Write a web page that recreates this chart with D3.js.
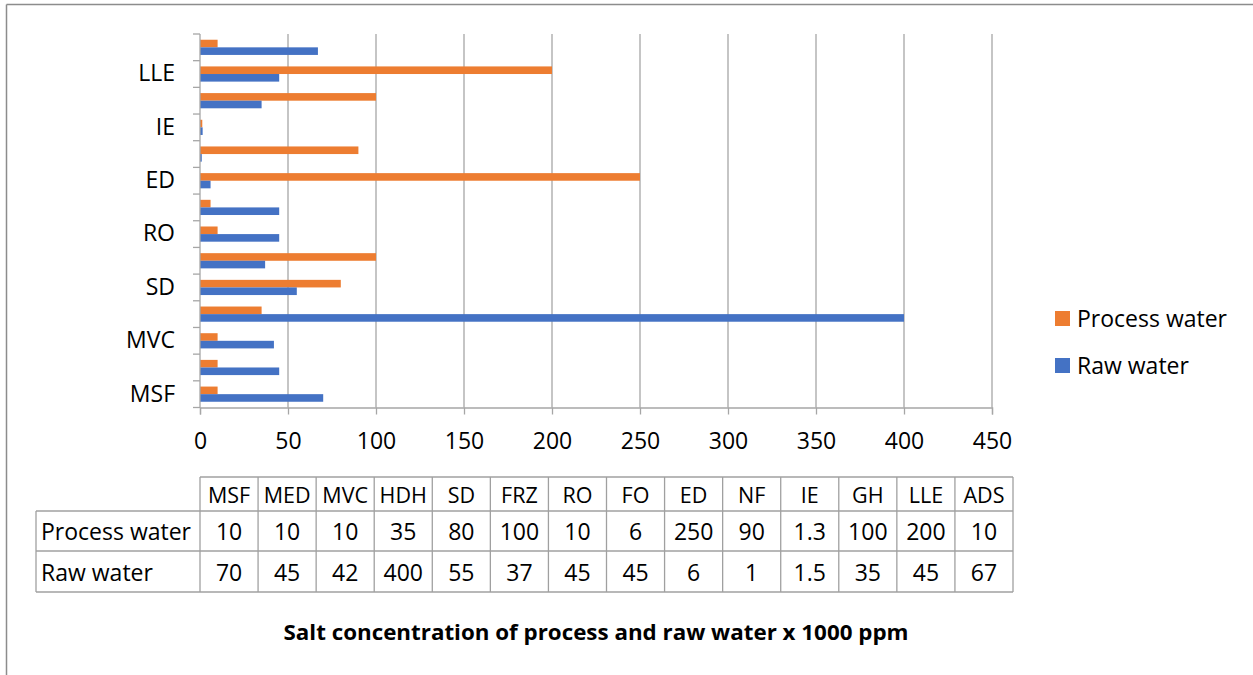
<!DOCTYPE html>
<html>
<head>
<meta charset="utf-8">
<script src="https://cdn.jsdelivr.net/npm/d3@7"></script>
<style>
  html, body { margin: 0; padding: 0; background: #fff; }
  svg { display: block; font-family: "Open Sans", "Liberation Sans", sans-serif; }
</style>
</head>
<body>
<svg id="chart" width="1253" height="675"></svg>
<script>
// Desalination technologies, bottom to top on the chart
const categories = ["MSF", "MED", "MVC", "HDH", "SD", "FRZ", "RO", "FO", "ED", "NF", "IE", "GH", "LLE", "ADS"];
// Salt concentration, x 1000 ppm
const processWater = [10, 10, 10, 35, 80, 100, 10, 6, 250, 90, 1.3, 100, 200, 10];
const rawWater = [70, 45, 42, 400, 55, 37, 45, 45, 6, 1, 1.5, 35, 45, 67];
const xTicks = [0, 50, 100, 150, 200, 250, 300, 350, 400, 450];
const seriesNames = ["Process water", "Raw water"];
const seriesColors = ["#ED7D31", "#4472C4"];
const titleText = "Salt concentration of process and raw water x 1000 ppm";

const svg = d3.select("#chart");
const W = 1253, H = 675;
const plot = { left: 200, right: 992, top: 34, bottom: 407.5 };
const gridColor = "#a6a6a6";
const fontSize = 23;

// Outer frame (top and left edges visible)
svg.append("line").attr("x1", 6.5).attr("y1", 4.5).attr("x2", W).attr("y2", 4.5)
  .attr("stroke", "#8c8c8c").attr("stroke-width", 1.5);
svg.append("line").attr("x1", 6.5).attr("y1", 4.5).attr("x2", 6.5).attr("y2", H)
  .attr("stroke", "#8c8c8c").attr("stroke-width", 1.5);

const x = d3.scaleLinear().domain([0, 450]).range([plot.left, plot.right]);
// Categories run bottom (MSF) to top (ADS)
const y = d3.scaleBand().domain(categories).range([plot.bottom, plot.top]).paddingInner(0).paddingOuter(0);
const barH = 7.6;

// Vertical gridlines
svg.append("g").selectAll("line").data(xTicks.filter(t => t > 0)).join("line")
  .attr("x1", d => x(d)).attr("x2", d => x(d))
  .attr("y1", plot.top).attr("y2", plot.bottom)
  .attr("stroke", gridColor).attr("stroke-width", 1.3);

// Bars
const groups = svg.append("g").selectAll("g").data(categories).join("g");
groups.append("rect")
  .attr("x", x(0))
  .attr("y", (d) => y(d) + y.bandwidth() / 2 - barH)
  .attr("width", (d, i) => x(processWater[i]) - x(0))
  .attr("height", barH)
  .attr("fill", seriesColors[0]);
groups.append("rect")
  .attr("x", x(0))
  .attr("y", (d) => y(d) + y.bandwidth() / 2)
  .attr("width", (d, i) => x(rawWater[i]) - x(0))
  .attr("height", barH)
  .attr("fill", seriesColors[1]);

// X axis
const xAxis = svg.append("g").attr("transform", `translate(0,${plot.bottom})`)
  .call(d3.axisBottom(x).tickValues(xTicks).tickSize(7).tickPadding(18).tickFormat(d3.format("d")));
xAxis.select(".domain").attr("stroke", gridColor).attr("stroke-width", 1.3);
xAxis.selectAll(".tick line").attr("stroke", gridColor).attr("stroke-width", 1.3);
xAxis.selectAll(".tick text").attr("font-size", fontSize).attr("fill", "#000")
  .attr("font-family", "'Open Sans', sans-serif");

// Y axis: every other category labelled, tick marks on band boundaries
const yAxis = svg.append("g").attr("transform", `translate(${plot.left},0)`)
  .call(d3.axisLeft(y).tickValues(categories.filter((c, i) => i % 2 === 0)).tickSize(0).tickPadding(25));
yAxis.select(".domain").remove();
yAxis.selectAll(".tick text").attr("font-size", fontSize).attr("fill", "#000")
  .attr("font-family", "'Open Sans', sans-serif");
const bounds = categories.map(c => y(c)).concat([plot.bottom]);
svg.append("g").selectAll("line").data(bounds).join("line")
  .attr("x1", plot.left - 7).attr("x2", plot.left)
  .attr("y1", d => d).attr("y2", d => d)
  .attr("stroke", gridColor).attr("stroke-width", 1.3);
svg.append("line").attr("x1", plot.left).attr("x2", plot.left)
  .attr("y1", plot.top).attr("y2", plot.bottom)
  .attr("stroke", gridColor).attr("stroke-width", 1.3);

// Data table beneath the axis
const table = { labelLeft: 36, left: 200, right: 1013, rows: [477, 511, 551, 592] };
const colW = (table.right - table.left) / categories.length;
const tbl = svg.append("g");
const tStroke = "#a0a0a0";
// horizontal lines
tbl.append("line").attr("x1", table.left).attr("x2", table.right)
  .attr("y1", table.rows[0]).attr("y2", table.rows[0]).attr("stroke", tStroke).attr("stroke-width", 1.3);
[1, 2, 3].forEach(r => {
  tbl.append("line").attr("x1", table.labelLeft).attr("x2", table.right)
    .attr("y1", table.rows[r]).attr("y2", table.rows[r]).attr("stroke", tStroke).attr("stroke-width", 1.3);
});
// vertical lines
tbl.append("line").attr("x1", table.labelLeft).attr("x2", table.labelLeft)
  .attr("y1", table.rows[1]).attr("y2", table.rows[3]).attr("stroke", tStroke).attr("stroke-width", 1.3);
d3.range(categories.length + 1).forEach(i => {
  const xx = table.left + i * colW;
  tbl.append("line").attr("x1", xx).attr("x2", xx)
    .attr("y1", table.rows[0]).attr("y2", table.rows[3]).attr("stroke", tStroke).attr("stroke-width", 1.3);
});
const cellText = (txt, cx, cy, anchor, size) => tbl.append("text")
  .attr("x", cx).attr("y", cy).attr("text-anchor", anchor || "middle")
  .attr("dominant-baseline", "central").attr("font-size", size || fontSize).attr("fill", "#000").text(txt);
categories.forEach((c, i) => {
  const cx = table.left + (i + 0.5) * colW;
  cellText(c, cx, (table.rows[0] + table.rows[1]) / 2, "middle", 21.5);
  cellText(processWater[i], cx, (table.rows[1] + table.rows[2]) / 2);
  cellText(rawWater[i], cx, (table.rows[2] + table.rows[3]) / 2);
});
cellText(seriesNames[0], table.labelLeft + 5, (table.rows[1] + table.rows[2]) / 2, "start");
cellText(seriesNames[1], table.labelLeft + 5, (table.rows[2] + table.rows[3]) / 2, "start");

// Legend
const legend = svg.append("g");
[0, 1].forEach(i => {
  const ly = 318 + i * 47;
  legend.append("rect").attr("x", 1055).attr("y", ly - 7).attr("width", 15).attr("height", 15)
    .attr("fill", seriesColors[i]);
  legend.append("text").attr("x", 1077).attr("y", ly).attr("dominant-baseline", "central")
    .attr("font-size", fontSize).attr("fill", "#000").text(seriesNames[i]);
});

// Axis title
svg.append("text").attr("x", 596).attr("y", 632).attr("text-anchor", "middle")
  .attr("dominant-baseline", "central").attr("font-size", 21).attr("font-weight", "bold")
  .attr("textLength", 625).attr("lengthAdjust", "spacingAndGlyphs")
  .attr("fill", "#000").text(titleText);
</script>
</body>
</html>
